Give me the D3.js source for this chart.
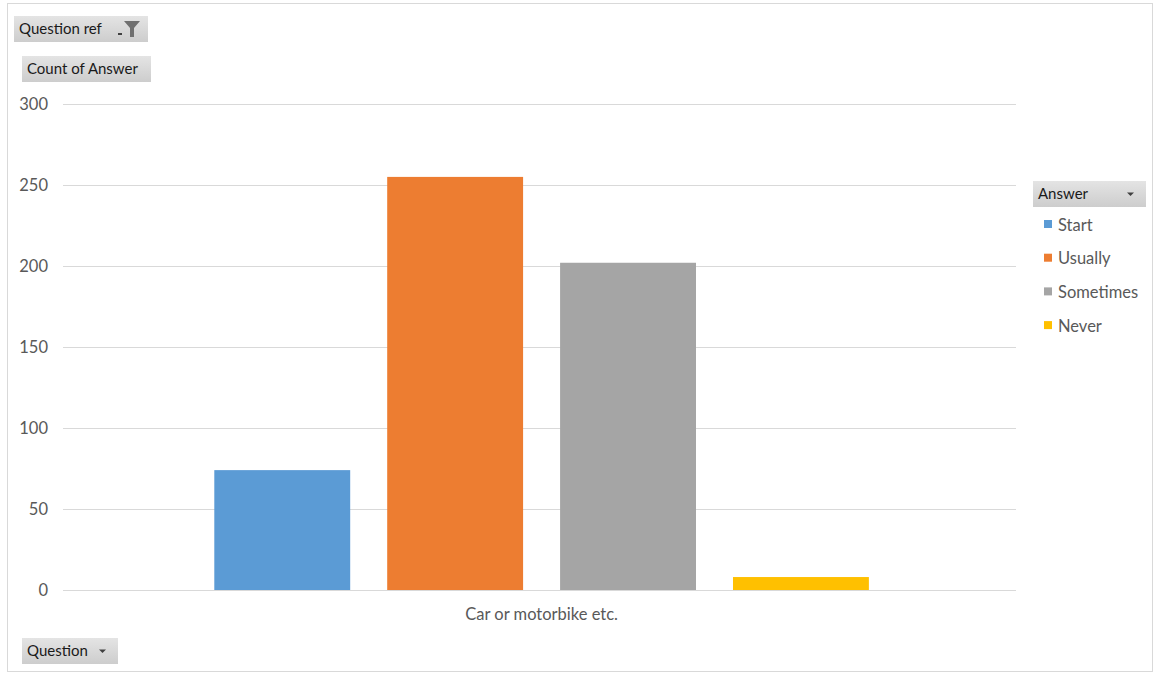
<!DOCTYPE html>
<html><head><meta charset="utf-8">
<script src="https://cdn.jsdelivr.net/npm/d3@7"></script>
<style>body{margin:0;background:#fff}svg{display:block}text{font-family:Lato,"Open Sans",sans-serif}</style>
</head><body><svg id="c" width="1154" height="674"></svg>
<script>
const categories = ["Car or motorbike etc."];
const seriesNames = ["Start", "Usually", "Sometimes", "Never"];
const seriesValues = [74, 255, 202, 8];
const seriesColors = ["#5B9BD5", "#ED7D31", "#A5A5A5", "#FFC000"];
const yTicks = [0, 50, 100, 150, 200, 250, 300];

(function(){
const svg = d3.select("#c");
const defs = svg.append("defs");
const g1 = defs.append("linearGradient").attr("id","btn").attr("x1",0).attr("y1",0).attr("x2",0).attr("y2",1);
g1.append("stop").attr("offset","0%").attr("stop-color","#e4e4e4");
g1.append("stop").attr("offset","100%").attr("stop-color","#cdcdcd");

// outer border
svg.append("rect").attr("x",7.5).attr("y",3.5).attr("width",1145).attr("height",668)
  .attr("fill","#fff").attr("stroke","#d9d9d9");

const pl = 63, pr = 1016, pt = 104, pb = 590;
const y = d3.scaleLinear().domain([0,300]).range([pb, pt]);
const x0 = d3.scaleBand().domain(categories).range([pl,pr]).paddingInner(0).paddingOuter(0.189).align(0.508);
const x1 = d3.scaleBand().domain(seriesNames).range([0, x0.bandwidth()]).paddingInner(0.214).paddingOuter(0.107);

// gridlines
const yAxis = d3.axisLeft(y).tickValues(yTicks).tickSize(-(pr-pl)).tickPadding(15);
const ga = svg.append("g").attr("transform",`translate(${pl},0)`).call(yAxis);
ga.select(".domain").remove();
ga.selectAll(".tick line").attr("stroke","#d9d9d9").attr("stroke-width",1);
ga.selectAll(".tick text").attr("fill","#595959").style("font-size","16.5px");

// bars
const gb = svg.append("g");
categories.forEach(cat => {
  gb.selectAll("rect.b").data(seriesNames).enter().append("rect")
    .attr("x", d => x0(cat) + x1(d))
    .attr("width", x1.bandwidth())
    .attr("y", (d,i) => y(seriesValues[i]))
    .attr("height", (d,i) => y(0) - y(seriesValues[i]))
    .attr("fill", (d,i) => seriesColors[i]);
});
svg.append("line").attr("x1",pl).attr("x2",pr).attr("y1",y(0)+0.5).attr("y2",y(0)+0.5).attr("stroke","#d9d9d9");

// category axis labels
const xAxis = d3.axisBottom(x0).tickSize(0).tickPadding(18);
const gx = svg.append("g").attr("transform",`translate(0,${pb})`).call(xAxis);
gx.select(".domain").remove();
gx.selectAll(".tick text").attr("fill","#595959").style("font-size","16.5px");

// buttons
function button(xp, yp, w, h, label, icon){
  const g = svg.append("g").attr("transform",`translate(${xp},${yp})`);
  g.append("rect").attr("width",w).attr("height",h).attr("fill","url(#btn)");
  g.append("text").attr("x",5).attr("y",h/2+5).attr("fill","#1a1a1a").style("font-size","15px").text(label);
  if(icon==="arrow"){
    g.append("path").attr("d",`M${w-19},${h/2-1.5}h7l-3.5,3.5z`).attr("fill","#404040");
  } else if(icon==="filter"){
    g.append("path").attr("d",`M${w-30},${h/2+4}h4v2h-4z`).attr("fill","#404040");
    g.append("path").attr("d",`M${w-24},${h/2-8}h16l-6,7v9h-4v-9z`).attr("fill","#707070");
  }
}
button(14,16,134,26,"Question ref","filter");
button(22,56,129,26,"Count of Answer",null);
button(22,638,96,26,"Question","arrow");
button(1033,181,113,26,"Answer","arrow");

// legend
const lg = svg.append("g");
seriesNames.forEach((s,i)=>{
  const yy = 225 + i*33.7;
  lg.append("rect").attr("x",1044).attr("y",yy-5).attr("width",8).attr("height",8).attr("fill",seriesColors[i]);
  lg.append("text").attr("x",1058).attr("y",yy+5.5).attr("fill","#595959").style("font-size","16.5px").text(s);
});
})();
</script></body></html>
